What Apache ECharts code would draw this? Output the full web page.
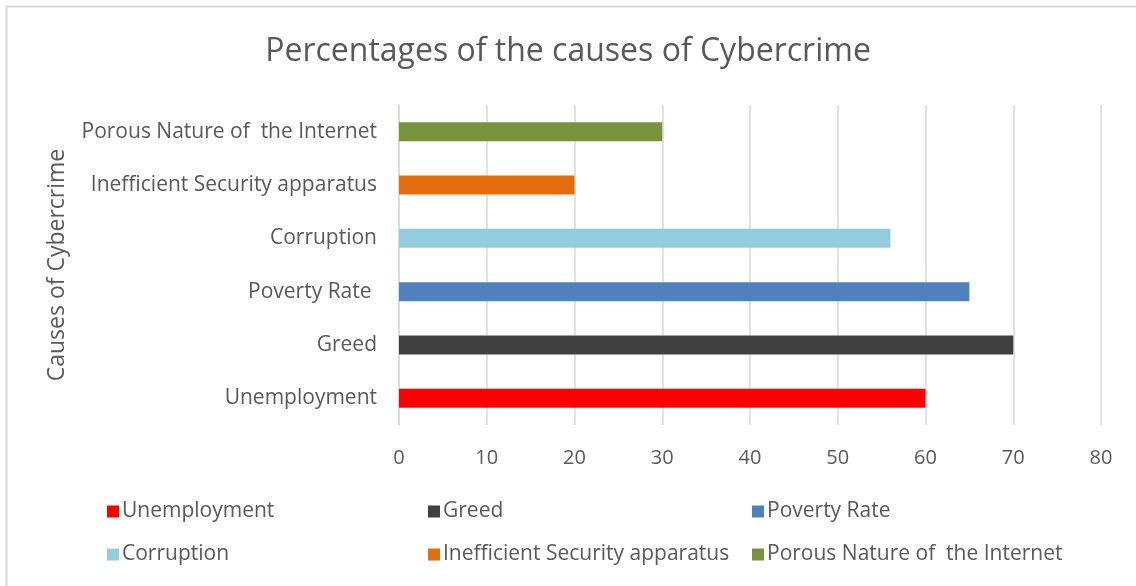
<!DOCTYPE html>
<html>
<head>
<meta charset="utf-8">
<script src="https://cdn.jsdelivr.net/npm/echarts@6/dist/echarts.min.js"></script>
<style>
  html, body { margin: 0; padding: 0; background: #ffffff; }
  #chart { width: 1136px; height: 586px; }
</style>
</head>
<body>
<div id="chart"></div>
<script>
// Causes of cybercrime, listed bottom to top on the category axis
const categories = [
  'Unemployment',
  'Greed',
  'Poverty Rate ',
  'Corruption',
  'Inefficient Security apparatus',
  'Porous Nature of  the Internet'
];
// Legend names for each cause
const legendNames = [
  'Unemployment',
  'Greed',
  'Poverty Rate',
  'Corruption',
  'Inefficient Security apparatus',
  'Porous Nature of  the Internet'
];
// Percentage for each cause
const values = [60, 70, 65, 56, 20, 30];
// Value-axis ticks
const xTicks = [0, 10, 20, 30, 40, 50, 60, 70, 80];

const colors = ['#ff0000', '#404040', '#4f81bd', '#93cddd', '#e46c0a', '#77933c'];
const FONT = '"Open Sans", "Noto Sans", sans-serif';
const TEXT = '#595959';

// One series per cause so each gets its own colour and legend entry;
// stacking keeps every bar centred on its own category row.
const series = legendNames.map((name, i) => ({
  name: name,
  type: 'bar',
  stack: 'causes',
  barWidth: 19,
  itemStyle: { color: colors[i] },
  data: categories.map((c, j) => (j === i ? values[i] : '-'))
}));

// Legend laid out as a 3 x 2 grid, one legend block per entry
const legendCols = [102, 423, 747];
const legendRows = [496, 539];
const legends = legendNames.map((name, i) => ({
  data: [name],
  left: legendCols[i % 3],
  top: legendRows[Math.floor(i / 3)],
  itemWidth: 12,
  itemHeight: 12,
  itemGap: 0,
  icon: 'rect',
  selectedMode: false,
  textStyle: { color: TEXT, fontFamily: FONT, fontSize: 21, padding: [0, 0, 0, -2] }
}));

const chart = echarts.init(document.getElementById('chart'), null, { renderer: 'canvas' });
chart.setOption({
  backgroundColor: '#ffffff',
  animation: false,
  title: {
    text: 'Percentages of the causes of Cybercrime',
    left: 'center',
    top: 31,
    textStyle: { color: TEXT, fontFamily: FONT, fontSize: 32, fontWeight: 'normal' }
  },
  graphic: [{
    type: 'rect',
    shape: { x: 6.5, y: 6.5, width: 1140, height: 600 },
    style: { fill: 'none', stroke: '#d9d9d9', lineWidth: 2 },
    silent: true
  }],
  legend: legends,
  grid: { left: 399, right: 35, top: 105, bottom: 161, containLabel: false },
  xAxis: {
    type: 'value',
    min: xTicks[0],
    max: xTicks[xTicks.length - 1],
    interval: xTicks[1] - xTicks[0],
    axisLine: { show: false },
    axisTick: { show: false },
    splitLine: { show: true, lineStyle: { color: '#d9d9d9', width: 1.5 } },
    axisLabel: { color: TEXT, fontFamily: FONT, fontSize: 20, margin: 23 }
  },
  yAxis: {
    type: 'category',
    data: categories,
    name: 'Causes of Cybercrime',
    nameLocation: 'middle',
    nameGap: 330,
    nameRotate: 90,
    nameTextStyle: { color: TEXT, fontFamily: FONT, fontSize: 23 },
    axisLine: { show: true, lineStyle: { color: '#d9d9d9', width: 1.5 } },
    axisTick: { show: false },
    axisLabel: { color: TEXT, fontFamily: FONT, fontSize: 21, margin: 22 }
  },
  series: series
});
</script>
</body>
</html>
